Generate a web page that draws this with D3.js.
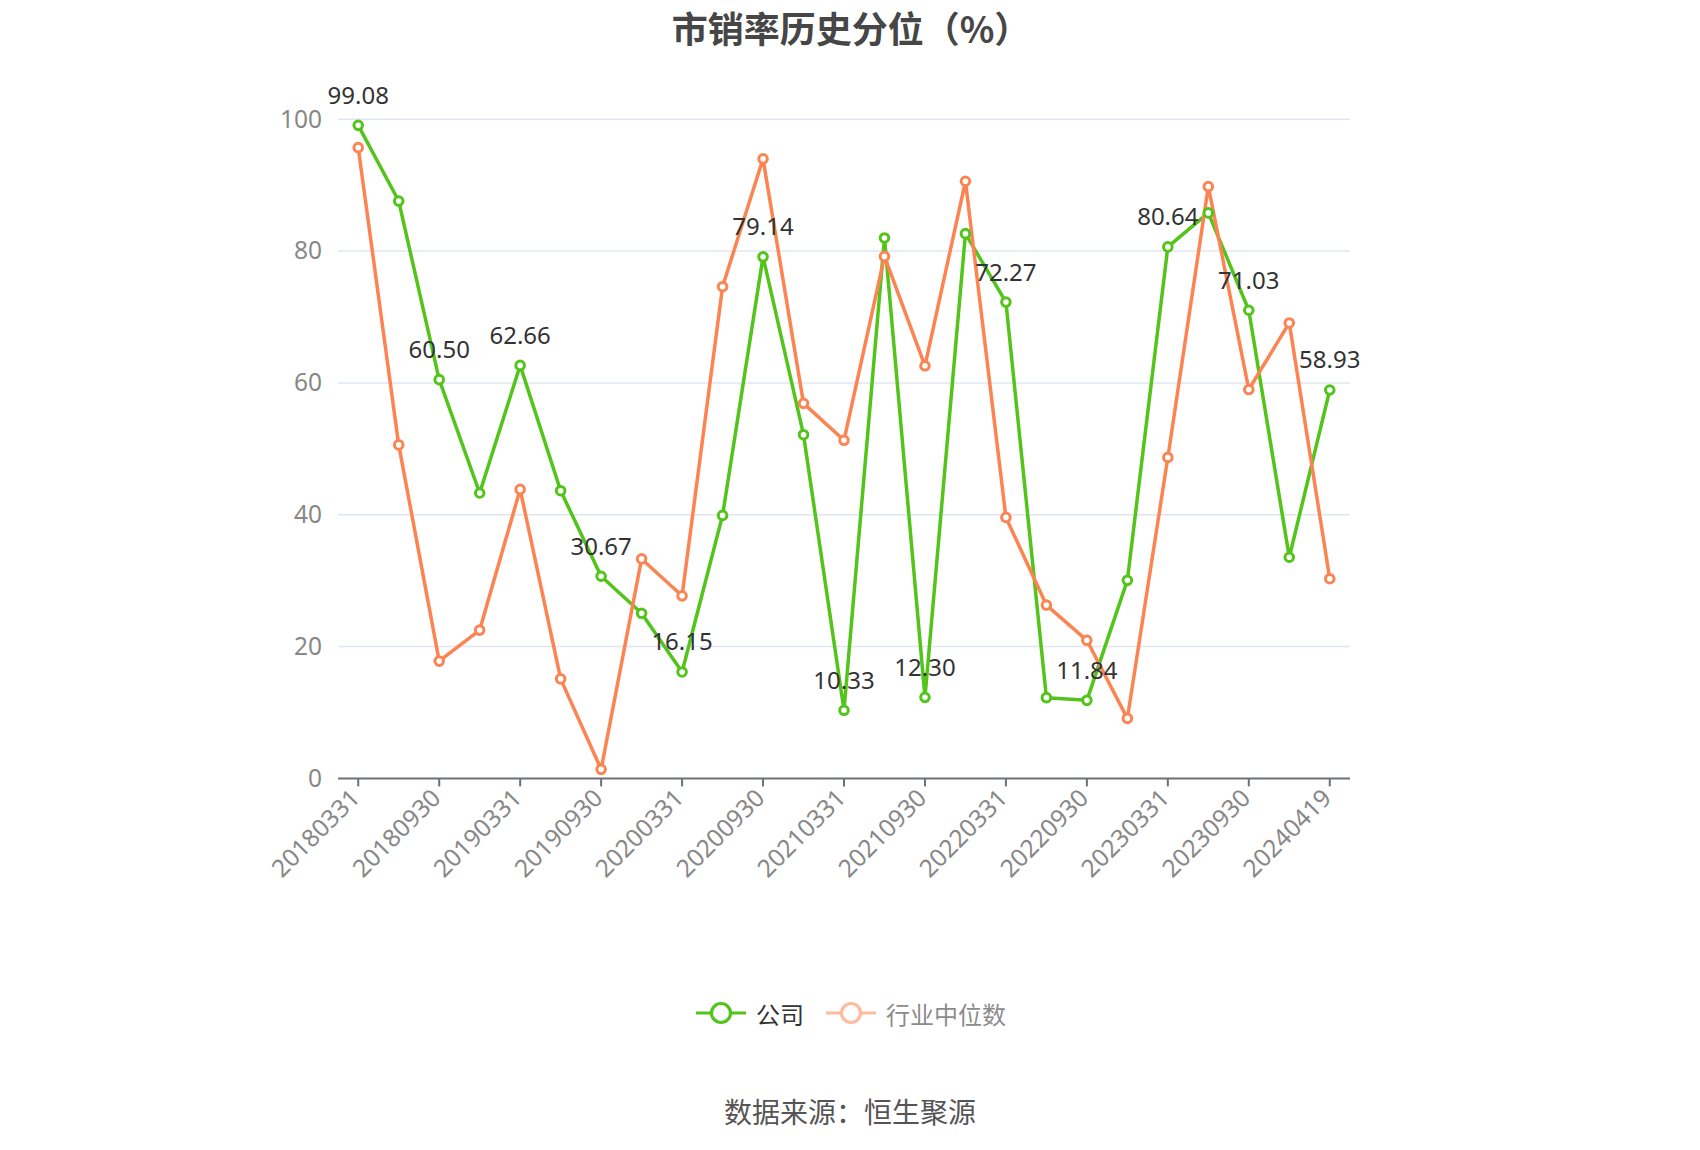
<!DOCTYPE html>
<html>
<head>
<meta charset="utf-8">
<script src="https://cdn.jsdelivr.net/npm/d3@7/dist/d3.min.js"></script>
<style>
  html, body { margin: 0; padding: 0; background: #fff; }
  svg { display: block; font-family: "Noto Sans", "Noto Sans CJK SC", sans-serif; }
</style>
</head>
<body>
<svg id="chart" width="1700" height="1150"></svg>
<script>
const dates = ["20180331","20180630","20180930","20181231","20190331","20190630","20190930","20191231",
  "20200331","20200630","20200930","20201231","20210331","20210630","20210930","20211231",
  "20220331","20220630","20220930","20221231","20230331","20230630","20230930","20231231","20240419"];
const companyValues = [99.08, 87.6, 60.50, 43.3, 62.66, 43.65, 30.67, 25.05, 16.15, 39.9, 79.14, 52.15, 10.33,
  82.0, 12.30, 82.65, 72.27, 12.25, 11.84, 30.05, 80.64, 85.8, 71.03, 33.55, 58.93];
const industryValues = [95.7, 50.6, 17.8, 22.5, 43.85, 15.1, 1.37, 33.3, 27.7, 74.6, 94.0, 56.9, 51.3,
  79.2, 62.6, 90.6, 39.6, 26.3, 20.95, 9.1, 48.7, 89.8, 59.0, 69.1, 30.3];
const yTicks = [0, 20, 40, 60, 80, 100];
const seriesNames = ["公司", "行业中位数"];
const titleText = "市销率历史分位（%）";
const sourceText = "数据来源：恒生聚源";

(function () {
const green = "#52c41a", orange = "#fc8452";
const svg = d3.select("#chart");
const pLeft = 338, pRight = 1350, pTop = 119.3, pBottom = 778.4;

const x = d3.scaleBand().domain(dates).range([pLeft, pRight]);
const cx = d => x(d) + x.bandwidth() / 2;
const y = d3.scaleLinear().domain([0, 100]).range([pBottom, pTop]);

// title
svg.append("text").attr("x", 851).attr("y", 27).attr("text-anchor", "middle")
  .attr("dominant-baseline", "central").attr("font-size", 36).attr("font-weight", "bold")
  .attr("fill", "#464646").attr("font-family", "'Noto Sans CJK SC', sans-serif").text(titleText);

// grid
svg.append("g").selectAll("line").data(yTicks.filter(t => t > 0)).join("line")
  .attr("x1", pLeft).attr("x2", pRight).attr("y1", d => y(d)).attr("y2", d => y(d))
  .attr("stroke", "#e0e6f1").attr("stroke-width", 1.5);

// y axis labels
const yAxis = d3.axisLeft(y).tickValues(yTicks).tickSize(0).tickPadding(16);
const gy = svg.append("g").attr("transform", `translate(${pLeft},0)`).call(yAxis);
gy.select(".domain").remove();
gy.selectAll("text").attr("font-size", 24.5).attr("fill", "#888")
  .attr("font-family", "'Noto Sans', sans-serif");

// x axis
const xAxis = d3.axisBottom(x).tickValues(dates.filter((d, i) => i % 2 === 0)).tickSize(8).tickPadding(6);
const gx = svg.append("g").attr("transform", `translate(0,${pBottom})`).call(xAxis);
gx.select(".domain").attr("stroke", "#6e7079").attr("stroke-width", 2).attr("d", `M${pLeft},0H${pRight}`);
gx.selectAll(".tick line").attr("stroke", "#6e7079").attr("stroke-width", 2);
gx.selectAll(".tick text").attr("font-size", 24.5).attr("fill", "#888")
  .attr("font-family", "'Noto Sans', sans-serif")
  .attr("text-anchor", "end").attr("dy", "0.35em")
  .attr("transform", "translate(-3,15) rotate(-45)").attr("y", 0).attr("x", 0);

// lines
const line = d3.line().x((d, i) => cx(dates[i])).y(d => y(d));
svg.append("path").attr("d", line(companyValues)).attr("fill", "none")
  .attr("stroke", green).attr("stroke-width", 3.5).attr("stroke-linejoin", "round");
svg.append("path").attr("d", line(industryValues)).attr("fill", "none")
  .attr("stroke", orange).attr("stroke-width", 3.5).attr("stroke-linejoin", "round");

// symbols
function symbols(vals, color) {
  svg.append("g").selectAll("circle").data(vals).join("circle")
    .attr("cx", (d, i) => cx(dates[i])).attr("cy", d => y(d)).attr("r", 4.3)
    .attr("fill", "#fff").attr("stroke", color).attr("stroke-width", 3);
}
symbols(companyValues, green);
symbols(industryValues, orange);

// labels on company series (every other)
svg.append("g").selectAll("text").data(companyValues.map((v, i) => ({v, i})).filter(d => d.i % 2 === 0)).join("text")
  .attr("x", d => cx(dates[d.i])).attr("y", d => y(d.v) - 21.5).attr("text-anchor", "middle")
  .attr("font-size", 24).attr("fill", "#333").attr("font-family", "'Noto Sans', sans-serif")
  .text(d => d.v.toFixed(2));

// legend
const ly = 1013;
function legendItem(x0, color, name, textColor, opacity) {
  const g = svg.append("g").attr("opacity", opacity);
  g.append("line").attr("x1", x0).attr("x2", x0 + 50).attr("y1", ly).attr("y2", ly)
    .attr("stroke", color).attr("stroke-width", 3);
  g.append("circle").attr("cx", x0 + 25).attr("cy", ly).attr("r", 9.5)
    .attr("fill", "#fff").attr("stroke", color).attr("stroke-width", 3.2);
  svg.append("text").attr("x", x0 + 60).attr("y", ly).attr("dominant-baseline", "central")
    .attr("font-size", 24).attr("fill", textColor)
    .attr("font-family", "'Noto Sans CJK SC', sans-serif").text(name);
}
legendItem(696, green, seriesNames[0], "#333", 1);
legendItem(826, orange, seriesNames[1], "#8c8c8c", 0.55);

// source
svg.append("text").attr("x", 850).attr("y", 1111).attr("text-anchor", "middle")
  .attr("dominant-baseline", "central").attr("font-size", 28).attr("fill", "#555")
  .attr("font-family", "'Noto Sans CJK SC', sans-serif").text(sourceText);
})();
</script>
</body>
</html>
